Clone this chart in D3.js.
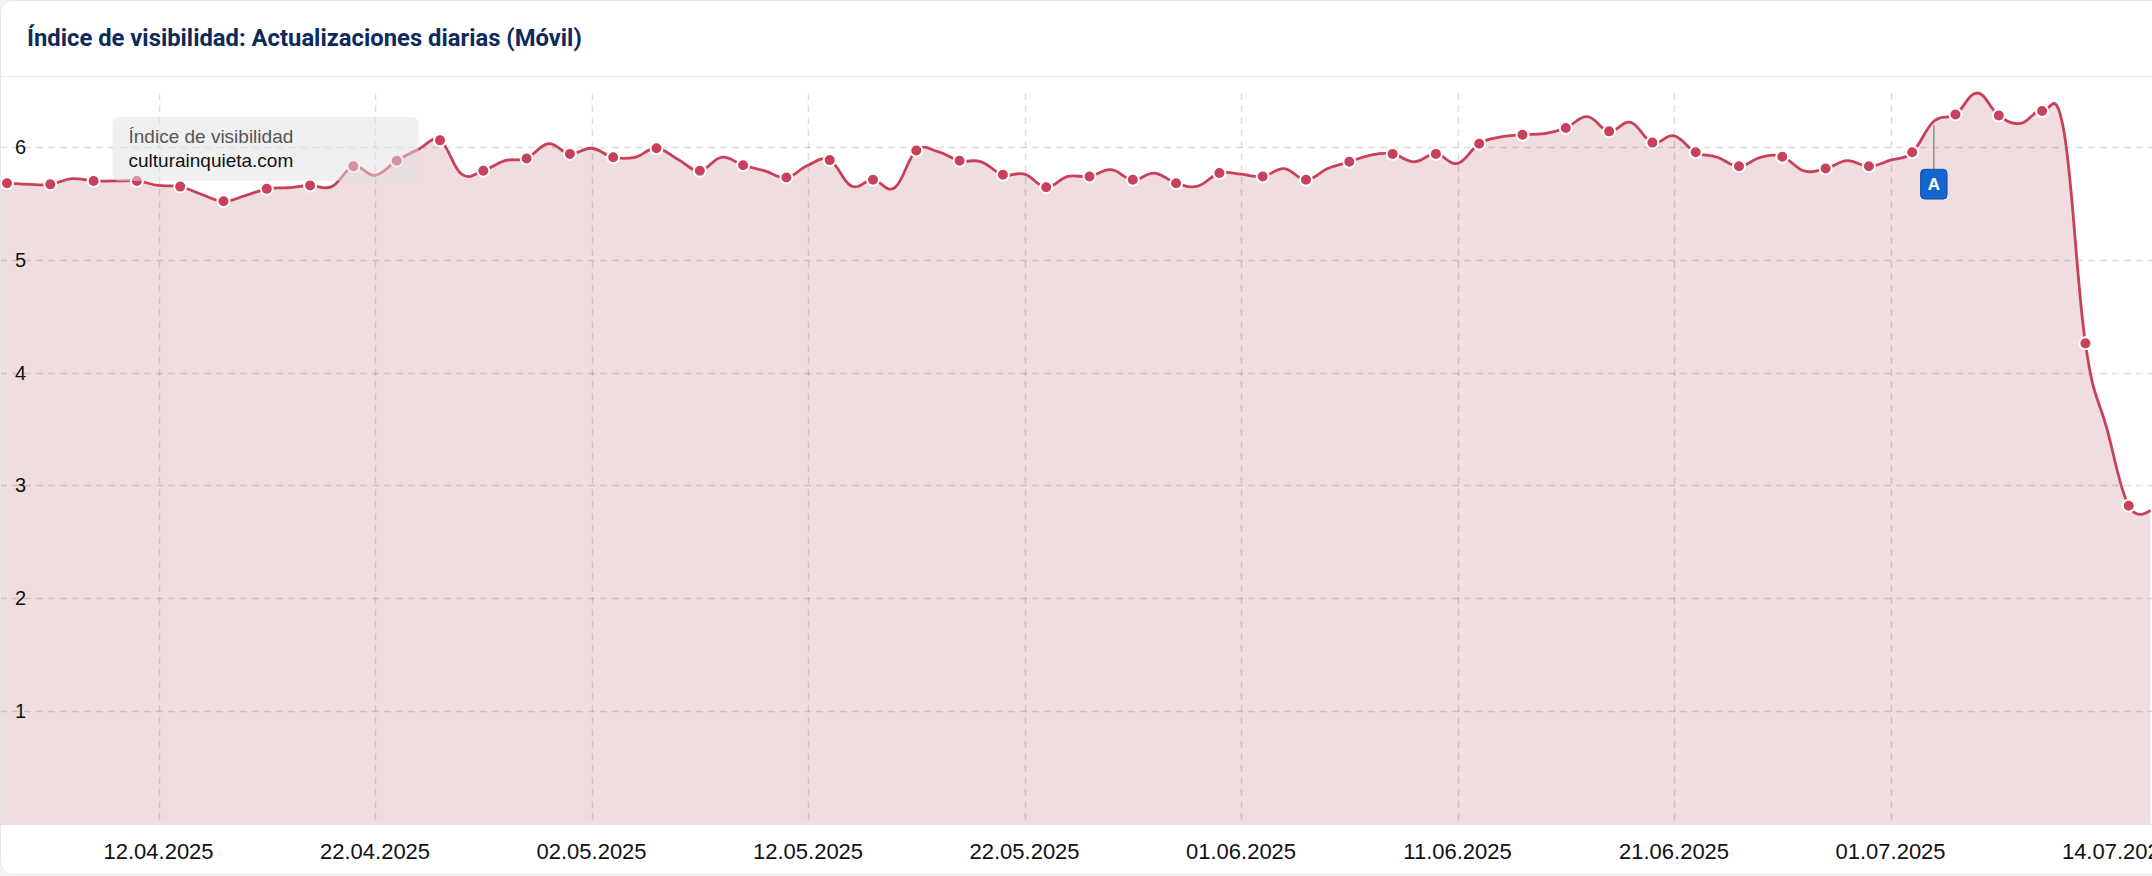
<!DOCTYPE html>
<html>
<head>
<meta charset="utf-8">
<script src="https://cdn.jsdelivr.net/npm/d3@7"></script>
<style>
  html, body { margin: 0; padding: 0; background: #f4f5f7; }
  svg { display: block; }
</style>
</head>
<body>
<svg id="chart" width="2152" height="876"></svg>
<script>
// ---------------- DATA ----------------
const title = "Índice de visibilidad: Actualizaciones diarias (Móvil)";
const seriesLabel = "Índice de visibilidad";
const seriesName = "culturainquieta.com";
const firstDate = "2025-04-04";   // one value per day from this date
const values = [
  5.69, 5.68, 5.67, 5.67, 5.72, 5.70, 5.70, 5.70, 5.66, 5.65,
  5.58, 5.52, 5.57, 5.63, 5.64, 5.66, 5.65, 5.83, 5.75, 5.88,
  5.98, 6.06, 5.76, 5.79, 5.88, 5.90, 6.03, 5.94, 5.99, 5.91,
  5.91, 5.99, 5.89, 5.79, 5.91, 5.84, 5.79, 5.73, 5.84, 5.885,
  5.655, 5.71, 5.64, 5.97, 5.96, 5.88, 5.87, 5.755, 5.76, 5.645,
  5.74, 5.74, 5.80, 5.71, 5.77, 5.68, 5.655, 5.77, 5.76, 5.74,
  5.81, 5.71, 5.81, 5.87, 5.93, 5.94, 5.87, 5.94, 5.855, 6.03,
  6.09, 6.11, 6.12, 6.17, 6.27, 6.14, 6.22, 6.04, 6.10, 5.955,
  5.91, 5.83, 5.91, 5.915, 5.79, 5.81, 5.88, 5.83, 5.885, 5.955,
  6.23, 6.29, 6.48, 6.28, 6.21, 6.32, 6.15, 4.26, 3.50, 2.82,
  2.78
];
const yTicks = [1, 2, 3, 4, 5, 6];
const xTickDates = ["2025-04-12", "2025-04-22", "2025-05-02", "2025-05-12", "2025-05-22",
                    "2025-06-01", "2025-06-11", "2025-06-21", "2025-07-01", "2025-07-14"];
const xDomain = ["2025-04-05", "2025-07-14"];
const annotations = [{ date: "2025-07-03", label: "A" }];

// ---------------- SETUP ----------------
const parse = d3.utcParse("%Y-%m-%d");
const fmt = d3.utcFormat("%d.%m.%Y");
const start = parse(firstDate);
const data = values.map((v, i) => ({ date: d3.utcDay.offset(start, i), value: v, idx: i }));

const W = 2152, H = 876;
const plot = { left: 0, right: 2172, top: 93, bottom: 823.8 };

const svg = d3.select("#chart");

// card
svg.append("rect")
  .attr("x", 0.5).attr("y", 0.5).attr("width", 2300).attr("height", 874)
  .attr("rx", 12).attr("fill", "#ffffff").attr("stroke", "#e4e4e4");

// title
svg.append("text")
  .attr("x", 27).attr("y", 46)
  .attr("font-family", "Roboto, 'Noto Sans', sans-serif")
  .attr("font-weight", 700).attr("font-size", 23.8)
  .attr("fill", "#0e2a5c")
  .text(title);

svg.append("line")
  .attr("x1", 0).attr("x2", W).attr("y1", 76.5).attr("y2", 76.5)
  .attr("stroke", "#e8e8e8").attr("stroke-width", 1);

const x = d3.scaleUtc()
  .domain(xDomain.map(parse))
  .range([7, plot.right]);

const y = d3.scaleLinear()
  .domain([0, d3.max(values)])
  .range([plot.bottom, plot.top]);

const defs = svg.append("defs");
defs.append("clipPath").attr("id", "clip")
  .append("rect").attr("x", 1).attr("y", 0).attr("width", W).attr("height", plot.bottom + 0.5);

const g = svg.append("g").attr("clip-path", "url(#clip)");

const curve = d3.curveCardinal.tension(-0.2);

// area
g.append("path")
  .datum(data)
  .attr("fill", "#f0dde0")
  .attr("d", d3.area().curve(curve).x(d => x(d.date)).y0(y(0)).y1(d => y(d.value)));

// grid lines
const gridColor = "rgba(0,0,0,0.13)";
g.append("g").selectAll("line").data(yTicks).join("line")
  .attr("x1", 0).attr("x2", W)
  .attr("y1", d => Math.round(y(d)) + 0.5).attr("y2", d => Math.round(y(d)) + 0.5)
  .attr("stroke", gridColor).attr("stroke-width", 1.5).attr("stroke-dasharray", "7,5");

g.append("g").selectAll("line").data(xTickDates.map(parse)).join("line")
  .attr("x1", d => Math.round(x(d)) + 0.5).attr("x2", d => Math.round(x(d)) + 0.5)
  .attr("y1", plot.top).attr("y2", plot.bottom)
  .attr("stroke", gridColor).attr("stroke-width", 1.5).attr("stroke-dasharray", "7,5");

// bottom axis line
svg.append("line")
  .attr("x1", 0).attr("x2", W).attr("y1", plot.bottom + 0.5).attr("y2", plot.bottom + 0.5)
  .attr("stroke", "#e2d2d5").attr("stroke-width", 1);

// line
g.append("path")
  .datum(data)
  .attr("fill", "none")
  .attr("stroke", "#c9405a")
  .attr("stroke-width", 2.8)
  .attr("d", d3.line().curve(curve).x(d => x(d.date)).y(d => y(d.value)));

// markers (every other day)
g.append("g").selectAll("circle")
  .data(data.filter(d => d.idx % 2 === 1))
  .join("circle")
  .attr("cx", d => x(d.date)).attr("cy", d => y(d.value))
  .attr("r", 6)
  .attr("fill", "#c9405a").attr("stroke", "#ffffff").attr("stroke-width", 2);

// y labels
svg.append("g").selectAll("text").data(yTicks).join("text")
  .attr("x", 15).attr("y", d => y(d)).attr("dy", "0.35em")
  .attr("font-family", "'Liberation Sans', Arial, sans-serif")
  .attr("font-size", 20).attr("fill", "#111")
  .text(d => d);

// x labels
const xl = svg.append("g").selectAll("text").data(xTickDates.map(parse)).join("text")
  .attr("y", 851).attr("dy", "0.35em")
  .attr("text-anchor", "middle")
  .attr("font-family", "'Liberation Sans', Arial, sans-serif")
  .attr("font-size", 22).attr("fill", "#111")
  .text(d => fmt(d));
xl.each(function(d) {
  const w = this.getComputedTextLength();
  const cx = Math.min(x(d), plot.right - w / 2);
  d3.select(this).attr("x", cx);
});

// annotation flags
annotations.forEach(a => {
  const dt = parse(a.date);
  const pt = data.find(d => +d.date === +dt);
  const ax = x(dt);
  const top = 169.3;
  svg.append("line")
    .attr("x1", ax).attr("x2", ax).attr("y1", y(pt.value) + 4).attr("y2", top)
    .attr("stroke", "#8c8c8c").attr("stroke-width", 1.5);
  svg.append("rect")
    .attr("x", ax - 13.2).attr("y", top).attr("width", 26.4).attr("height", 29.7)
    .attr("rx", 4).attr("fill", "#1565cf").attr("stroke", "#0d4f9e").attr("stroke-width", 1);
  svg.append("text")
    .attr("x", ax).attr("y", top + 15).attr("dy", "0.35em")
    .attr("text-anchor", "middle")
    .attr("font-family", "'Liberation Sans', Arial, sans-serif")
    .attr("font-weight", 700).attr("font-size", 17).attr("fill", "#fff")
    .text(a.label);
});

// tooltip
const tt = svg.append("g").attr("transform", "translate(112.5,117)");
tt.append("rect")
  .attr("width", 306).attr("height", 64).attr("rx", 6)
  .attr("fill", "rgba(226,226,226,0.5)");
tt.append("text")
  .attr("x", 16).attr("y", 26.3)
  .attr("font-family", "'Liberation Sans', Arial, sans-serif")
  .attr("font-size", 19).attr("fill", "#555")
  .text(seriesLabel);
tt.append("text")
  .attr("x", 16).attr("y", 50.3)
  .attr("font-family", "'Liberation Sans', Arial, sans-serif")
  .attr("font-size", 19).attr("fill", "#111")
  .text(seriesName);
</script>
</body>
</html>
